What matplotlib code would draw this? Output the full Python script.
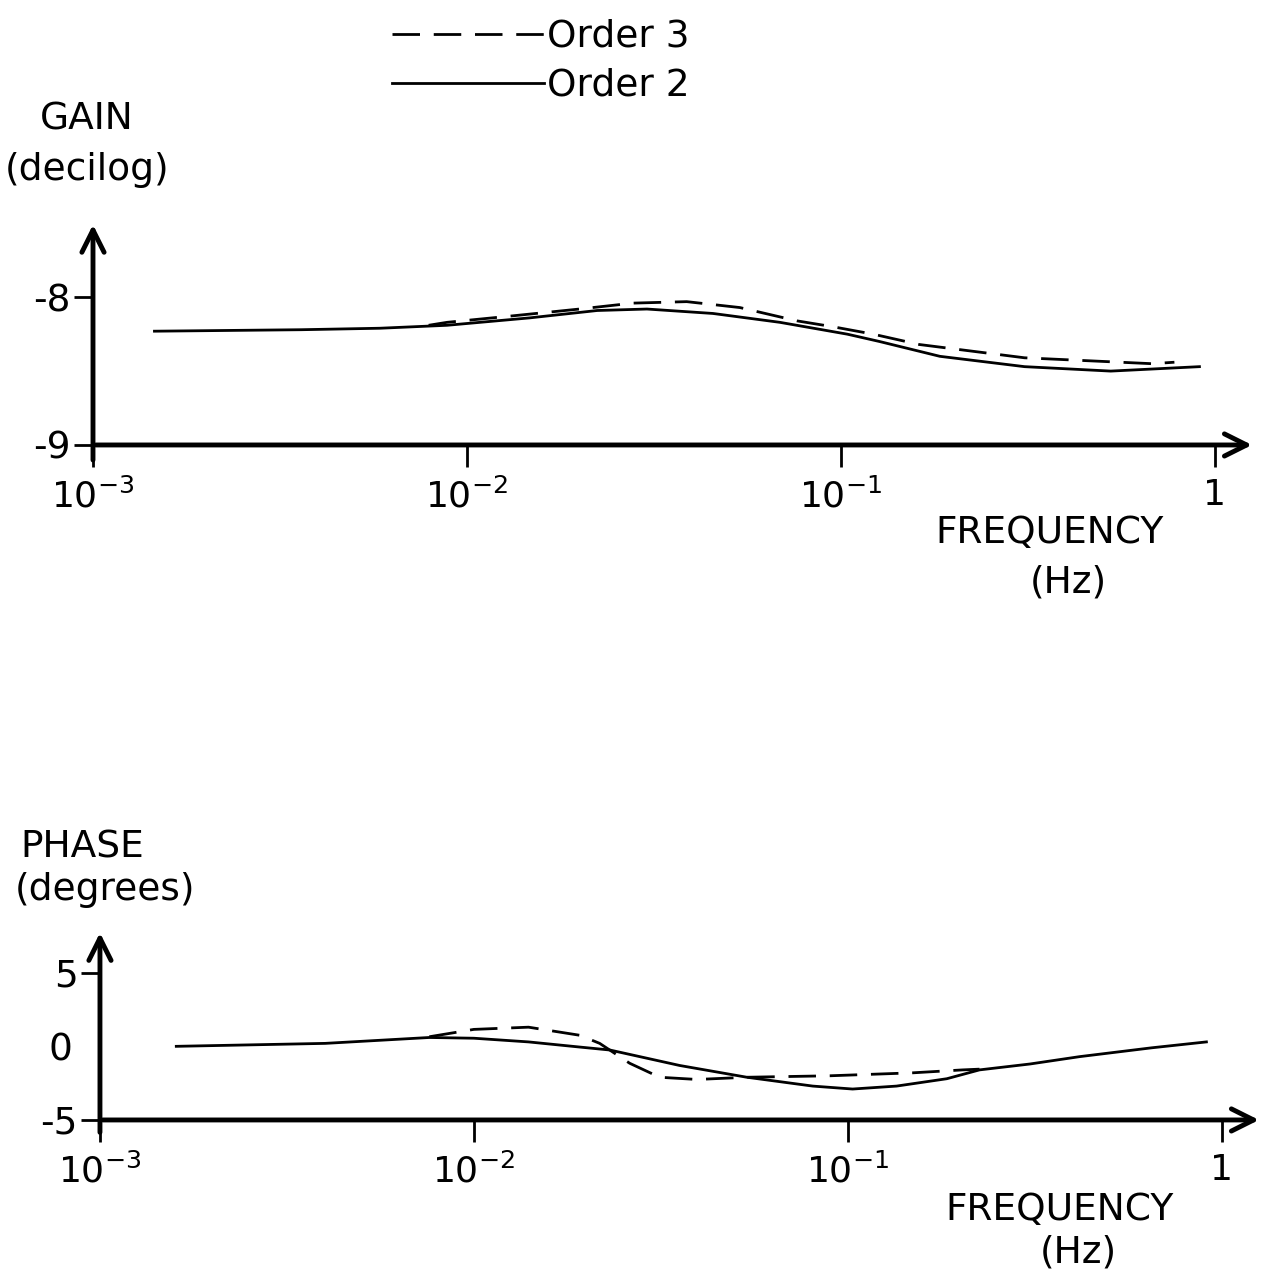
import matplotlib.pyplot as plt
from matplotlib.lines import Line2D

plt.rcParams['font.family'] = ['DejaVu Sans']
plt.rcParams['mathtext.default'] = 'regular'

# gain (decilog) vs frequency (Hz)
gain_f2 = [1.46e-3, 3.6e-3, 5.85e-3, 8.85e-3, 1.47e-2, 2.23e-2, 3.03e-2, 4.55e-2, 6.87e-2,
           1.04e-1, 1.27e-1, 1.84e-1, 3.1e-1, 5.27e-1, 9.1e-1]
gain_o2 = [-8.23, -8.22, -8.21, -8.19, -8.14, -8.09, -8.08, -8.11, -8.17,
           -8.25, -8.30, -8.40, -8.47, -8.50, -8.47]
gain_f3 = [7.9e-3, 8.85e-3, 1.28e-2, 2.0e-2, 2.78e-2, 3.87e-2, 5.37e-2, 7.63e-2, 9.53e-2,
           1.22e-1, 1.62e-1, 3.1e-1, 6.8e-1, 7.8e-1]
gain_o3 = [-8.19, -8.17, -8.13, -8.08, -8.04, -8.03, -8.07, -8.16, -8.20,
           -8.25, -8.32, -8.41, -8.45, -8.44]

# phase (degrees) vs frequency (Hz)
phase_f2 = [1.6e-3, 4e-3, 7.6e-3, 1e-2, 1.4e-2, 1.92e-2, 2.31e-2, 3.55e-2, 5.37e-2, 8.06e-2,
            1.03e-1, 1.35e-1, 1.84e-1, 2.25e-1, 3.07e-1, 4.17e-1, 6.5e-1, 9.1e-1]
phase_o2 = [0.0, 0.2, 0.6, 0.55, 0.3, -0.05, -0.25, -1.3, -2.1, -2.7,
            -2.9, -2.7, -2.2, -1.6, -1.2, -0.7, -0.1, 0.3]
phase_f3 = [7.6e-3, 1e-2, 1.4e-2, 1.92e-2, 2.17e-2, 2.61e-2, 3.14e-2, 3.95e-2, 5.37e-2,
            8.95e-2, 1.49e-1, 2.03e-1, 2.25e-1]
phase_o3 = [0.65, 1.15, 1.3, 0.75, 0.2, -1.15, -2.1, -2.25, -2.1,
            -2.0, -1.8, -1.6, -1.55]

xticks = [1e-3, 1e-2, 1e-1, 1]
xticklabels = ['$10^{-3}$', '$10^{-2}$', '$10^{-1}$', '1']

fig = plt.figure(figsize=(12.67, 12.75), dpi=100)
fs = 27
dash = (0, (9.9, 4.95))


def setup(ax, ylim, yticks, yticklabels):
    ax.set_xscale('log')
    ax.set_xlim(1e-3, 1.28)
    ax.set_ylim(*ylim)
    for s in ax.spines.values():
        s.set_visible(False)
    ax.set_xticks(xticks)
    ax.set_xticklabels(xticklabels, fontsize=fs - 1)
    ax.xaxis.set_minor_locator(plt.NullLocator())
    ax.set_yticks(yticks)
    ax.set_yticklabels(yticklabels, fontsize=fs)
    ax.tick_params(axis='x', direction='out', length=16, width=2, pad=8)
    ax.tick_params(axis='y', direction='out', length=14, width=2, pad=2)
    # arrow axes
    ax.annotate('', xy=(1.0, 0), xytext=(0, 0), xycoords='axes fraction',
                arrowprops=dict(arrowstyle='->', lw=3.5, mutation_scale=40))
    ax.annotate('', xy=(0, 1.0), xytext=(0, -0.08), xycoords='axes fraction',
                arrowprops=dict(arrowstyle='->', lw=3.5, mutation_scale=40))


# gain panel
ax1 = fig.add_axes([0.0734, 0.651, 0.917, 0.175])
setup(ax1, (-9, -7.49), [-9, -8], ['-9', '-8'])
ax1.plot(gain_f2, gain_o2, color='black', lw=2)
ax1.plot(gain_f3, gain_o3, color='black', lw=2, linestyle=dash)

# phase panel
ax2 = fig.add_axes([0.0789, 0.1216, 0.917, 0.149])
setup(ax2, (-5, 7.9), [-5, 5], ['-5', '5'])
ax2.set_yticks([0], minor=True)
ax2.set_yticklabels(['0'], minor=True, fontsize=fs)
ax2.tick_params(axis='y', which='minor', length=0, pad=20)
ax2.plot(phase_f2, phase_o2, color='black', lw=2)
ax2.plot(phase_f3, phase_o3, color='black', lw=2, linestyle=dash)

# axis titles
fig.text(40 / 1267, 1 - 120 / 1275, 'GAIN', fontsize=fs, va='center', ha='left')
fig.text(5 / 1267, 1 - 170 / 1275, '(decilog)', fontsize=fs, va='center', ha='left')
fig.text(935 / 1267, 1 - 533 / 1275, 'FREQUENCY', fontsize=fs, va='center', ha='left')
fig.text(1030 / 1267, 1 - 583 / 1275, '(Hz)', fontsize=fs, va='center', ha='left')
fig.text(20 / 1267, 1 - 847 / 1275, 'PHASE', fontsize=fs, va='center', ha='left')
fig.text(15 / 1267, 1 - 890 / 1275, '(degrees)', fontsize=fs, va='center', ha='left')
fig.text(945 / 1267, 1 - 1210 / 1275, 'FREQUENCY', fontsize=fs, va='center', ha='left')
fig.text(1040 / 1267, 1 - 1252 / 1275, '(Hz)', fontsize=fs, va='center', ha='left')

# legend
handles = [Line2D([], [], color='black', lw=2, linestyle=dash),
           Line2D([], [], color='black', lw=2)]
fig.legend(handles, ['Order 3', 'Order 2'], loc='upper left',
           bbox_to_anchor=(373 / 1267, 1.0), frameon=False, borderaxespad=0.1,
           fontsize=fs, handlelength=4.05, handletextpad=0.1, labelspacing=0.35)

fig.savefig('out.png', dpi=100)
